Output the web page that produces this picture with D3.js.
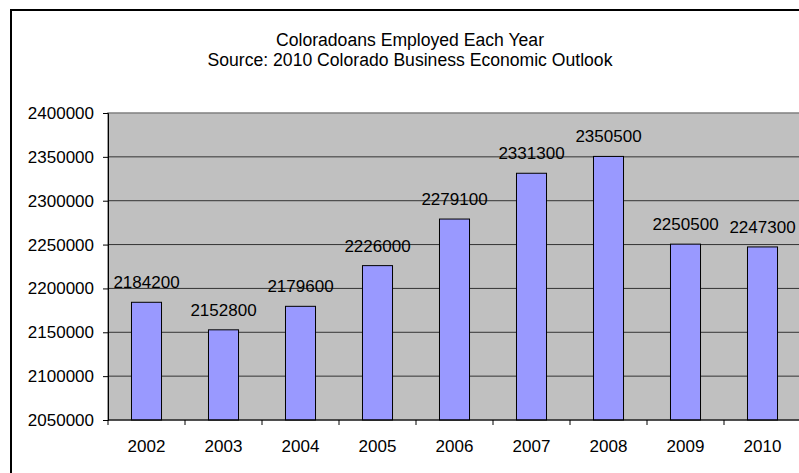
<!DOCTYPE html>
<html>
<head>
<meta charset="utf-8">
<script src="https://cdn.jsdelivr.net/npm/d3@7"></script>
<style>
  html, body { margin: 0; padding: 0; background: #fff; }
  svg { display: block; font-family: "Liberation Sans", Arial, sans-serif; }
</style>
</head>
<body>
<svg id="chart" width="799" height="473"></svg>
<script>
// Colorado employment by year
const years = ["2002", "2003", "2004", "2005", "2006", "2007", "2008", "2009", "2010"];
const employed = [2184200, 2152800, 2179600, 2226000, 2279100, 2331300, 2350500, 2250500, 2247300];
const yTicks = [2050000, 2100000, 2150000, 2200000, 2250000, 2300000, 2350000, 2400000];
const titleLines = ["Coloradoans Employed Each Year", "Source: 2010 Colorado Business Economic Outlook"];

const svg = d3.select("#chart");
const W = 799, H = 473;
const plot = { left: 108, right: 801, top: 113, bottom: 420 };
const fontSize = 17;

// chart frame
svg.append("rect")
  .attr("x", 11).attr("y", 10)
  .attr("width", W + 20).attr("height", H + 20)
  .attr("fill", "#fff").attr("stroke", "#000").attr("stroke-width", 2);

// titles
svg.selectAll("text.title").data(titleLines).enter().append("text")
  .attr("class", "title")
  .attr("x", 410)
  .attr("y", (d, i) => 46 + i * 20)
  .attr("text-anchor", "middle")
  .attr("font-size", 17.6)
  .attr("fill", "#000")
  .text(d => d);

const x = d3.scaleBand().domain(years).range([plot.left, plot.right]).padding(0);
const y = d3.scaleLinear().domain([2050000, 2400000]).range([plot.bottom, plot.top]);

// plot area
svg.append("rect")
  .attr("x", plot.left).attr("y", plot.top)
  .attr("width", plot.right - plot.left).attr("height", plot.bottom - plot.top)
  .attr("fill", "#c0c0c0").attr("stroke", "#808080").attr("stroke-width", 1.5);

// horizontal gridlines
svg.selectAll("line.grid").data(yTicks.slice(1, -1)).enter().append("line")
  .attr("class", "grid")
  .attr("x1", plot.left).attr("x2", plot.right)
  .attr("y1", d => y(d)).attr("y2", d => y(d))
  .attr("stroke", "#333").attr("stroke-width", 1);

// bars
const bw = x.bandwidth() * 0.39;
svg.selectAll("rect.bar").data(employed).enter().append("rect")
  .attr("class", "bar")
  .attr("x", (d, i) => x(years[i]) + (x.bandwidth() - bw) / 2)
  .attr("y", d => y(d))
  .attr("width", bw)
  .attr("height", d => plot.bottom - y(d))
  .attr("fill", "#9999ff").attr("stroke", "#000").attr("stroke-width", 1);

// value labels
svg.selectAll("text.val").data(employed).enter().append("text")
  .attr("class", "val")
  .attr("x", (d, i) => x(years[i]) + x.bandwidth() / 2)
  .attr("y", d => y(d) - 14)
  .attr("text-anchor", "middle")
  .attr("font-size", fontSize)
  .attr("fill", "#000")
  .text(d => d);

// y axis
const yAxis = d3.axisLeft(y).tickValues(yTicks).tickFormat(d3.format("d")).tickSize(5).tickPadding(9);
const gy = svg.append("g").attr("transform", `translate(${plot.left},0)`).call(yAxis);
gy.select(".domain").attr("stroke", "#000");
gy.selectAll(".tick line").attr("stroke", "#000");
gy.selectAll(".tick text").attr("font-size", fontSize).attr("font-family", null).attr("fill", "#000");

// x axis: ticks between categories
const gx = svg.append("g").attr("transform", `translate(0,${plot.bottom})`);
gx.append("line").attr("x1", plot.left).attr("x2", plot.right).attr("stroke", "#000");
gx.selectAll("line.tk").data(years).enter().append("line")
  .attr("class", "tk")
  .attr("x1", d => x(d)).attr("x2", d => x(d))
  .attr("y1", 0).attr("y2", 5).attr("stroke", "#000");
gx.selectAll("text").data(years).enter().append("text")
  .attr("x", d => x(d) + x.bandwidth() / 2)
  .attr("y", 32)
  .attr("text-anchor", "middle")
  .attr("font-size", fontSize)
  .attr("fill", "#000")
  .text(d => d);
</script>
</body>
</html>
